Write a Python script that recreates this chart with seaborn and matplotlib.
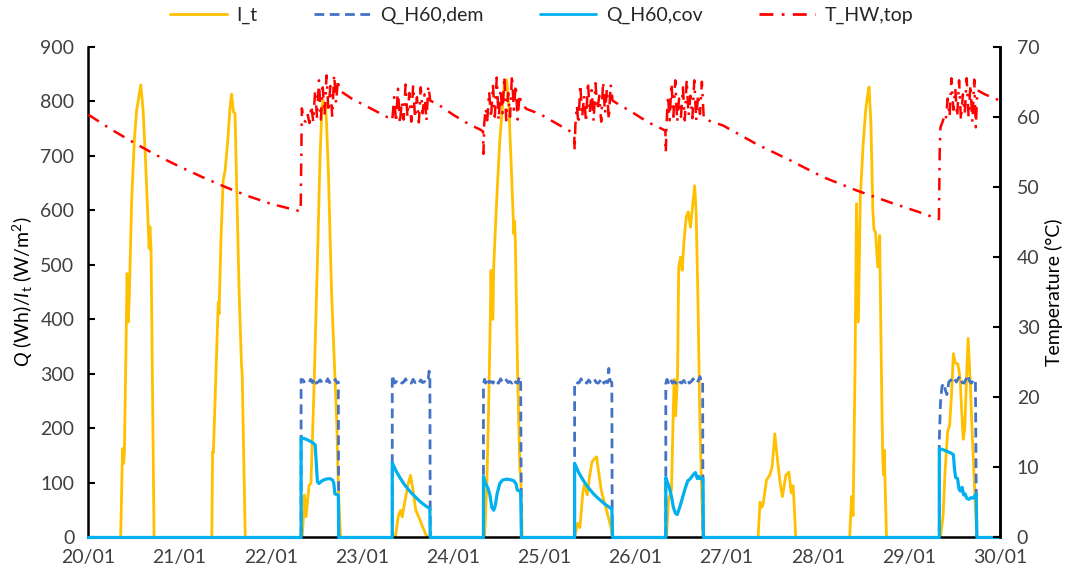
import matplotlib
matplotlib.use("Agg")
import matplotlib.pyplot as plt
from matplotlib.lines import Line2D
import seaborn as sns
import pandas as pd

# ---------------- data (hours since 20/01 00:00) ----------------
day_labels = ["20/01", "21/01", "22/01", "23/01", "24/01", "25/01",
              "26/01", "27/01", "28/01", "29/01", "30/01"]

it_hours = [0, 8.5, 9.0, 9.3, 9.5, 10.2, 10.5, 10.8, 11.4, 12.1, 12.7, 13.2, 13.8, 14.4, 15.0, 15.6, 16.0, 16.2, 16.5, 17.3,
            32.5, 32.7, 32.9, 33.0, 34.2, 34.4, 34.9, 35.5, 36.0, 36.7, 37.3, 37.7, 38.2, 38.6, 39.0, 39.7, 40.3, 40.5, 41.3,
            56.3, 56.9, 57.3, 58.1, 58.6, 59.3, 60.2, 61.0, 61.5, 61.8, 62.1, 62.4, 62.7, 63.2, 64.0, 64.7, 65.4, 65.7, 66.0, 66.4,
            80.8, 81.6, 82.2, 82.6, 83.4, 84.2, 84.8, 85.5, 86.2, 87.3, 88.6, 89.3,
            104.3, 104.9, 105.4, 105.8, 106.0, 106.2, 106.5, 106.7, 107.4, 108.3, 109.2, 109.6, 110.1, 110.7, 111.4, 112.0, 112.2, 112.4, 113.0, 113.6, 113.8, 114.2,
            128.0, 128.8, 129.4, 130.2, 130.6, 131.3, 132.0, 132.6, 133.3, 133.8, 134.2, 135.0, 135.8, 136.7, 137.5, 138.0,
            152.2, 152.7, 153.5, 154.0, 154.2, 154.6, 155.1, 155.4, 155.9, 156.3, 156.8, 157.4, 157.9, 158.5, 159.2, 159.6, 160.0, 160.5, 160.9, 161.4, 161.8,
            176.3, 176.8, 177.2, 177.6, 178.5, 179.4, 180.0, 180.7, 181.5, 182.1, 182.7, 183.6, 184.4, 185.0, 185.5, 185.8, 186.2,
            200.4, 200.9, 201.3, 201.8, 202.2, 202.7, 203.2, 203.9, 204.6, 205.0, 205.5, 206.0, 206.5, 206.8, 207.2, 207.8, 208.3, 208.7, 209.1, 209.3, 209.5, 210.1,
            224.3, 225.0, 225.5, 226.2, 226.7, 227.2, 227.7, 228.2, 228.9, 229.5, 229.9, 230.3, 230.7, 231.2, 231.6, 232.2, 232.6, 233.0, 233.4, 233.9, 240]
it_values = [0, 0, 163, 136, 160, 484, 395, 447, 618, 728, 783, 804, 830, 785, 700, 600, 530, 570, 530, 0,
             0, 157, 155, 175, 432, 410, 545, 655, 673, 728, 789, 813, 780, 778, 655, 447, 319, 300, 0,
             0, 78, 38, 95, 100, 250, 480, 700, 790, 801, 785, 795, 760, 667, 453, 331, 209, 118, 57, 0,
             0, 40, 50, 38, 69, 99, 114, 85, 50, 32, 9, 0,
             0, 100, 250, 400, 490, 405, 400, 496, 606, 728, 807, 838, 839, 789, 667, 557, 580, 542, 300, 123, 118, 0,
             0, 26, 18, 85, 97, 78, 115, 139, 145, 148, 126, 87, 65, 42, 20, 0,
             0, 69, 87, 240, 290, 223, 300, 496, 514, 490, 545, 588, 597, 569, 618, 645, 594, 423, 240, 93, 0,
             0, 65, 55, 60, 105, 115, 130, 190, 136, 100, 75, 114, 120, 82, 95, 60, 0,
             0, 75, 40, 300, 612, 395, 624, 715, 783, 805, 826, 760, 600, 565, 560, 496, 554, 330, 150, 115, 160, 0,
             0, 40, 120, 195, 205, 260, 337, 320, 318, 290, 230, 180, 200, 300, 365, 275, 200, 140, 70, 0, 0]

qdem_hours = [0, 56.0,
              56.0, 56.5, 57.0, 57.5, 58.0, 58.5, 59.0, 59.5, 60.0, 60.5, 61.0, 61.5, 62.0, 62.5, 63.0, 63.5, 64.0, 64.5, 65.0, 65.5, 65.8, 65.9,
              80.0, 80.0, 80.3, 80.6, 81.0, 81.5, 82.0, 82.5, 83.0, 83.5, 84.0, 84.5, 85.0, 85.5, 86.0, 86.5, 87.0, 87.5, 88.0, 88.5, 89.0, 89.5, 89.7, 89.9, 90.0,
              104.0, 104.0, 104.3, 104.6, 105.0, 105.5, 106.0, 106.5, 107.0, 107.5, 108.0, 108.5, 109.0, 109.5, 110.0, 110.5, 111.0, 111.5, 112.0, 112.5, 113.0, 113.5, 113.8, 114.0,
              128.0, 128.0, 128.4, 128.8, 129.2, 129.7, 130.2, 130.7, 131.2, 131.7, 132.2, 132.7, 133.2, 133.7, 134.2, 134.7, 135.2, 135.7, 136.2, 136.7, 137.0, 137.3, 137.8, 137.9,
              152.0, 152.0, 152.3, 152.7, 153.2, 153.7, 154.2, 154.7, 155.2, 155.7, 156.2, 156.7, 157.2, 157.7, 158.2, 158.7, 159.2, 159.7, 160.2, 160.7, 161.0, 161.4, 161.7, 161.8,
              224.0, 224.0, 224.3, 224.7, 225.2, 225.6, 226.0, 226.5, 227.0, 227.5, 228.0, 228.5, 229.0, 229.5, 230.0, 230.5, 231.0, 231.5, 232.0, 232.5, 233.0, 233.5, 233.8, 240]
qdem_values = [0, 0,
               290, 289, 283, 284, 283, 290, 284, 292, 283, 285, 289, 284, 286, 283, 291, 284, 286, 283, 290, 283, 285, 0,
               0, 298, 290, 283, 286, 284, 288, 283, 285, 291, 284, 286, 283, 290, 284, 287, 283, 289, 284, 286, 283, 292, 305, 290, 0,
               0, 280, 290, 283, 292, 284, 286, 283, 290, 284, 283, 291, 285, 283, 289, 284, 286, 283, 290, 284, 283, 295, 283, 0,
               0, 280, 286, 283, 284, 291, 283, 286, 283, 289, 284, 283, 290, 284, 283, 287, 292, 283, 286, 284, 310, 288, 284, 0,
               0, 282, 290, 284, 292, 283, 286, 283, 290, 285, 283, 288, 284, 290, 283, 286, 291, 284, 283, 290, 295, 284, 286, 0,
               0, 180, 246, 277, 283, 270, 262, 285, 289, 284, 290, 285, 292, 296, 284, 283, 290, 298, 286, 283, 289, 290, 0, 0]

qcov_hours = [0, 56.0,
              56.0, 57.0, 58.0, 59.0, 59.7, 60.3, 60.7, 61.5, 62.5, 63.5, 64.2, 64.6, 64.9, 65.8, 65.9,
              80.0, 80.0, 81.0, 82.0, 83.0, 84.0, 85.0, 86.0, 87.0, 88.0, 89.0, 89.9, 90.0,
              104.0, 104.0, 104.5, 105.2, 105.7, 106.2, 106.7, 107.1, 107.6, 108.3, 109.0, 110.0, 111.0, 112.0, 112.6, 112.9, 113.8, 114.0,
              128.0, 128.0, 129.0, 130.0, 131.0, 132.0, 133.0, 134.0, 135.0, 136.0, 137.0, 137.8, 138.0,
              152.0, 152.0, 152.5, 153.0, 153.5, 154.0, 154.5, 155.0, 155.5, 156.0, 156.6, 157.2, 157.8, 158.5, 159.2, 159.8, 160.3, 160.7, 161.0, 161.8, 161.9,
              224.0, 224.0, 225.0, 226.0, 227.0, 227.7, 228.0, 228.3, 228.8, 229.2, 229.6, 230.0, 230.4, 230.8, 231.2, 231.8, 232.3, 232.8, 233.3, 233.7, 233.9, 240]
qcov_values = [0, 0,
               183, 181, 178, 174, 170, 102, 99, 104, 107, 108, 106, 100, 80, 78, 0,
               0, 137, 122, 110, 99, 90, 82, 75, 68, 62, 57, 53, 0,
               0, 112, 100, 90, 78, 55, 50, 58, 80, 99, 105, 107, 106, 104, 98, 87, 84, 0,
               0, 136, 120, 108, 97, 88, 80, 73, 67, 61, 56, 52, 0,
               0, 110, 100, 90, 75, 55, 45, 42, 52, 63, 78, 92, 104, 108, 115, 119, 108, 112, 108, 108, 0,
               0, 163, 161, 158, 155, 152, 125, 110, 108, 88, 85, 92, 78, 80, 72, 70, 73, 72, 76, 80, 0, 0]

temp_hours = [0, 6, 12, 18, 24, 30, 36, 42, 48, 55.9,
              56.0, 56.2, 56.7, 57.2, 57.7, 58.2, 58.7, 59.2, 59.7, 60.2, 60.7, 61.2, 61.7, 62.2, 62.7, 63.2, 63.7, 64.2, 64.7, 65.2, 65.7, 66.0,
              69.3, 75.0, 79.9,
              80.0, 80.5, 81.0, 81.5, 82.0, 82.5, 83.0, 83.5, 84.0, 84.5, 85.0, 85.5, 86.0, 86.5, 87.0, 87.5, 88.0, 88.5, 89.0, 89.5, 90.0,
              92.5, 96.0, 100.0, 103.4, 103.9,
              104.0, 104.2, 104.6, 105.0, 105.5, 106.0, 106.5, 107.0, 107.5, 108.0, 108.5, 109.0, 109.5, 110.0, 110.5, 111.0, 111.5, 112.0, 112.5, 113.0, 113.5, 114.0,
              115.4, 118.9, 121.1, 126.3, 127.9,
              128.0, 128.2, 128.6, 129.0, 129.5, 130.0, 130.5, 131.0, 131.5, 132.0, 132.5, 133.0, 133.5, 134.0, 134.5, 135.0, 135.5, 136.0, 136.5, 137.0, 137.5, 138.0,
              138.6, 143.0, 147.4, 150.9, 151.9,
              152.0, 152.2, 152.6, 153.0, 153.5, 154.0, 154.5, 155.0, 155.5, 156.0, 156.5, 157.0, 157.5, 158.0, 158.5, 159.0, 159.5, 160.0, 160.5, 161.0, 161.5, 162.0,
              167.1, 175.9, 184.7, 193.4, 202.2, 211.0, 219.8, 223.3, 223.9,
              224.0, 224.1, 224.3, 224.8, 225.3, 225.7, 226.2, 226.7, 227.2, 227.7, 228.2, 228.7, 229.2, 229.7, 230.2, 230.7, 231.2, 231.7, 232.2, 232.7, 233.2, 233.6, 234.0,
              236.0, 240.0]
temp_values = [60.3, 58.2, 56.3, 54.5, 52.9, 51.4, 50.0, 48.7, 47.6, 46.5,
               52.0, 61.2, 59.5, 59.3, 60.4, 59.1, 61.6, 59.3, 63.8, 59.8, 65.2, 59.6, 64.2, 60.3, 65.9, 60.7, 64.4, 60.0, 66.0, 62.0, 65.3, 63.8,
               62.6, 61.0, 59.6,
               59.5, 62.8, 59.2, 64.0, 59.0, 62.2, 59.6, 64.6, 60.0, 63.4, 59.3, 64.5, 59.8, 62.8, 59.2, 64.2, 60.5, 63.2, 59.4, 64.4, 62.3,
               61.6, 60.3, 59.0, 58.1, 57.9,
               54.7, 59.0, 61.2, 59.5, 63.6, 59.8, 64.6, 60.0, 65.6, 59.5, 64.0, 60.5, 65.8, 59.5, 63.4, 60.0, 66.0, 61.0, 64.6, 59.6, 63.2, 61.8,
               61.1, 60.4, 59.7, 58.1, 57.6,
               55.2, 58.8, 61.6, 59.0, 64.6, 60.0, 63.0, 59.2, 65.0, 60.5, 63.8, 59.4, 64.8, 61.0, 63.0, 59.3, 65.0, 60.5, 64.0, 59.6, 64.6, 62.3,
               62.1, 60.7, 59.2, 58.3, 58.0,
               54.9, 59.0, 63.0, 59.5, 64.8, 60.0, 65.2, 59.3, 62.6, 60.0, 64.2, 59.5, 65.3, 60.2, 63.0, 59.8, 65.2, 59.5, 63.2, 60.4, 65.0, 59.7,
               58.75, 56.1, 53.8, 51.4, 49.5, 47.8, 46.2, 45.5, 45.4,
               50.0, 55.0, 58.5, 59.2, 60.0, 59.5, 62.6, 60.0, 65.5, 61.0, 64.0, 60.0, 65.2, 59.5, 63.2, 60.5, 65.5, 60.0, 64.6, 59.3, 65.3, 58.5, 63.8,
               63.2, 62.3]

# ---------------- style ----------------
sns.set_style("white")
plt.rcParams['font.family'] = ['Lato', 'DejaVu Sans']
plt.rcParams['mathtext.fontset'] = 'custom'
plt.rcParams['mathtext.rm'] = 'Lato'
plt.rcParams['mathtext.it'] = 'Lato:italic'
plt.rcParams['mathtext.bf'] = 'Lato:bold'

C_IT = "#FFC000"
C_DEM = "#4472C4"
C_COV = "#00B0F0"
C_T = "#FF0000"
FS = 14
DEM_LS = (0, (3.5, 2.0))
T_LS = (0, (5, 3, 1, 3))

fig = plt.figure(figsize=(10.67, 5.79), dpi=100)
ax = fig.add_axes([0.0828, 0.0717, 0.8545, 0.8477])

df_it = pd.DataFrame({"h": it_hours, "v": it_values})
df_dem = pd.DataFrame({"h": qdem_hours, "v": qdem_values})
df_cov = pd.DataFrame({"h": qcov_hours, "v": qcov_values})
df_t = pd.DataFrame({"h": temp_hours, "v": temp_values})

lw = 2.0
sns.lineplot(data=df_it, x="h", y="v", ax=ax, color=C_IT, linewidth=lw,
             estimator=None, sort=False, legend=False, zorder=2)
sns.lineplot(data=df_dem, x="h", y="v", ax=ax, color=C_DEM, linewidth=lw,
             linestyle=DEM_LS, estimator=None, sort=False, legend=False, zorder=2.2)
sns.lineplot(data=df_cov, x="h", y="v", ax=ax, color=C_COV, linewidth=2.3,
             estimator=None, sort=False, legend=False, zorder=3, clip_on=False)

ax.set_xlim(0, 240)
ax.set_ylim(0, 900)
ax.set_xticks(range(0, 241, 24))
ax.set_xticklabels(day_labels)
ax.set_yticks(range(0, 901, 100))
ax.tick_params(axis='x', length=0, pad=8, labelsize=FS, colors='#404040')
ax.tick_params(axis='y', direction='in', length=5, width=1.5, pad=10, labelsize=FS,
               labelcolor='#404040', color='black')
ax.set_xlabel("")
ax.set_ylabel(r"$Q$ (Wh)/$I_\mathrm{t}$ (W/m$^2$)", fontsize=FS, color='black', labelpad=4)
ax.spines["top"].set_visible(False)
for s in ["left", "bottom", "right"]:
    ax.spines[s].set_color("black")
    ax.spines[s].set_linewidth(1.8)

ax2 = ax.twinx()
sns.lineplot(data=df_t, x="h", y="v", ax=ax2, color=C_T, linewidth=1.8,
             linestyle=T_LS, estimator=None, sort=False, legend=False)
ax2.set_ylim(0, 70)
ax2.set_xlim(0, 240)
ax2.set_yticks(range(0, 71, 10))
ax2.tick_params(axis='y', direction='in', length=5, width=1.5, pad=12, labelsize=FS,
                labelcolor='#404040', color='black')
ax2.set_ylabel("Temperature (°C)", fontsize=FS, color='black', labelpad=4)
ax2.set_xlabel("")
for s in ["top", "bottom", "left"]:
    ax2.spines[s].set_visible(False)
ax2.spines["right"].set_color("black")
ax2.spines["right"].set_linewidth(1.8)

handles = [
    Line2D([], [], color=C_IT, lw=lw),
    Line2D([], [], color=C_DEM, lw=lw, linestyle=DEM_LS),
    Line2D([], [], color=C_COV, lw=lw),
    Line2D([], [], color=C_T, lw=lw, linestyle=T_LS),
]
labels = ["I_t", "Q_H60,dem", "Q_H60,cov", "T_HW,top"]
fig.legend(handles, labels, loc="center", bbox_to_anchor=(0.508, 0.973), ncol=4,
           frameon=False, fontsize=FS, handlelength=2.9, columnspacing=2.9,
           handletextpad=0.5, labelcolor='#262626')

fig.savefig("out.png", dpi=100)
